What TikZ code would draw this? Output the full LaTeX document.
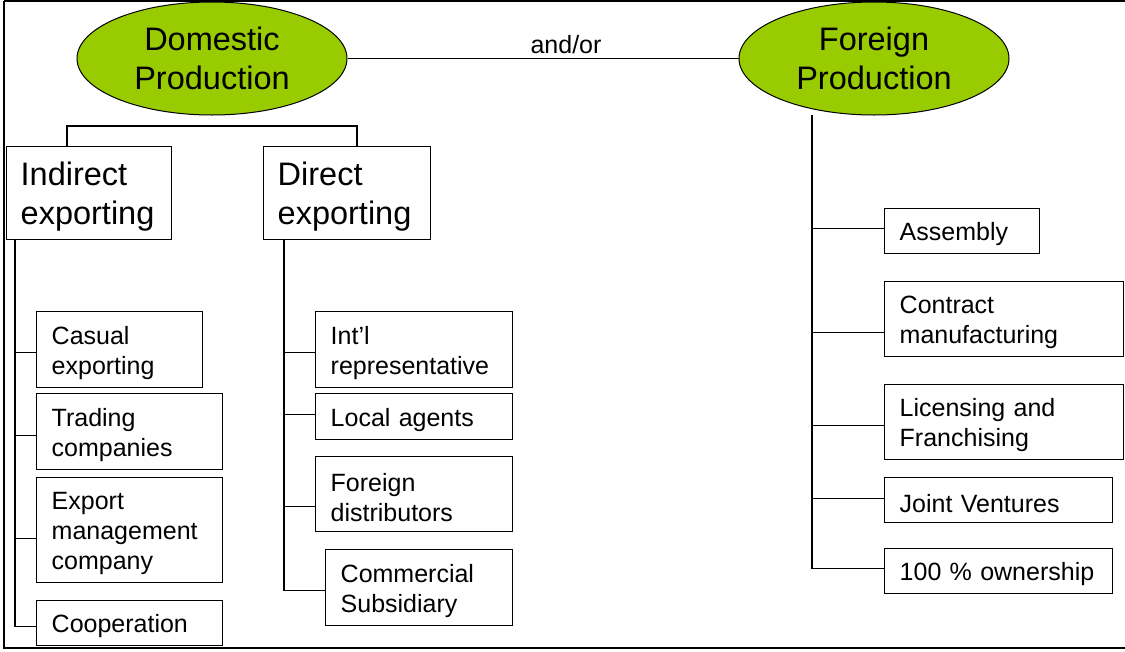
\documentclass[tikz,border=0pt]{standalone}
\usepackage{fontspec}
\setmainfont{Liberation Sans}
\usetikzlibrary{shapes.geometric,calc}
\definecolor{limefill}{RGB}{153,204,0}
\begin{document}
\begin{tikzpicture}[x=1pt,y=-1pt,line width=1.4pt,
  ell/.style={ellipse,draw,fill=limefill,minimum width=270pt,minimum height=113pt,inner sep=0pt,align=center,font=\fontsize{32.5}{38.5}\selectfont,line width=1pt},
  bx/.style={draw,anchor=north west,align=left,inner xsep=15pt,inner ysep=0pt,font=\fontsize{25}{30}\selectfont,execute at begin node={\rule{0pt}{24.5pt}}},
  big/.style={bx,inner xsep=14pt,font=\fontsize{32.5}{38.5}\selectfont,execute at begin node={\rule{0pt}{30.5pt}}},
  lbl/.style={font=\fontsize{25}{30}\selectfont,inner sep=0pt}]
\useasboundingbox (0,0) rectangle (1125,651);
% frame
\draw (1125,1) -- (4,1);
\draw[line width=1.8pt] (4,1) -- (4,648) -- (1125,648);
% ellipses
\node[ell] (dom) at (212,58.5) {Domestic\\Production};
\node[ell] (frn) at (874,58.5) {Foreign\\Production};
\draw (dom.east) -- (frn.west);
\node[lbl] (andor) at (566,45) {and/or};
% level 1
\node[big,minimum width=165pt,minimum height=93pt,text width=137pt] (ind) at (6,146) {Indirect\\exporting};
\node[big,minimum width=167pt,minimum height=93pt,text width=139pt] (dir) at (263,146) {Direct\\exporting};
\coordinate (bar) at (212,126);
\draw ([xshift=61pt]ind.north west) |- (bar) -| ([xshift=94pt]dir.north west);
% indirect children
\node[bx,minimum width=166pt,minimum height=76pt,text width=136pt] (cas) at (36,311) {Casual\\exporting};
\node[bx,minimum width=186pt,minimum height=76pt,text width=156pt] (trd) at (36,393) {Trading\\companies};
\node[bx,minimum width=186pt,minimum height=105pt,text width=156pt] (emc) at (36,477) {Export\\management\\company};
\node[bx,minimum width=186pt,minimum height=45pt,text width=156pt] (coop) at (36,600) {Cooperation};
\coordinate (it) at ([xshift=9pt]ind.south west);
\draw (it) |- ([yshift=-3.5pt]coop.west);
\draw ([yshift=-3pt]cas.west) -- ++(-21,0);
\draw ([yshift=-4pt]trd.west) -- ++(-21,0);
\draw ([yshift=-8.5pt]emc.west) -- ++(-21,0);
% direct children
\node[bx,minimum width=197pt,minimum height=76pt,text width=167pt] (intl) at (315,311) {Int’l\\representative};
\node[bx,minimum width=197pt,minimum height=46pt,text width=167pt] (loc) at (315,393) {Local agents};
\node[bx,minimum width=197pt,minimum height=75pt,text width=167pt] (fd) at (315,456) {Foreign\\distributors};
\node[bx,minimum width=187pt,minimum height=76pt,text width=157pt] (cs) at (325,549) {Commercial\\Subsidiary};
\coordinate (dt) at ([xshift=21pt]dir.south west);
\draw (dt) |- ([yshift=-3pt]cs.west);
\draw ([yshift=-3pt]intl.west) -- ++(-31,0);
\draw ([yshift=2pt]loc.west) -- ++(-31,0);
\draw ([yshift=-12.5pt]fd.west) -- ++(-31,0);
% foreign children
\node[bx,minimum width=155pt,minimum height=45pt,text width=125pt] (asm) at (884,208) {Assembly};
\node[bx,minimum width=239pt,minimum height=75pt,text width=209pt] (cm) at (884,281) {Contract\\manufacturing};
\node[bx,minimum width=239pt,minimum height=75pt,text width=209pt] (lf) at (884,384) {Licensing and\\Franchising};
\node[bx,minimum width=228pt,minimum height=45pt,text width=198pt] (jv) at (884,477) {Joint Ventures};
\node[bx,minimum width=228pt,minimum height=45pt,text width=198pt] (own) at (884,548) {100 \% ownership};
\coordinate (ft) at (812,115);
\draw (ft) |- ([yshift=2.5pt]own.west);
\draw ([yshift=2.5pt]asm.west) -- ++(-72,0);
\draw ([yshift=-13.5pt]cm.west) -- ++(-72,0);
\draw ([yshift=-3.5pt]lf.west) -- ++(-72,0);
\draw ([yshift=1.5pt]jv.west) -- ++(-72,0);
\end{tikzpicture}
\end{document}
